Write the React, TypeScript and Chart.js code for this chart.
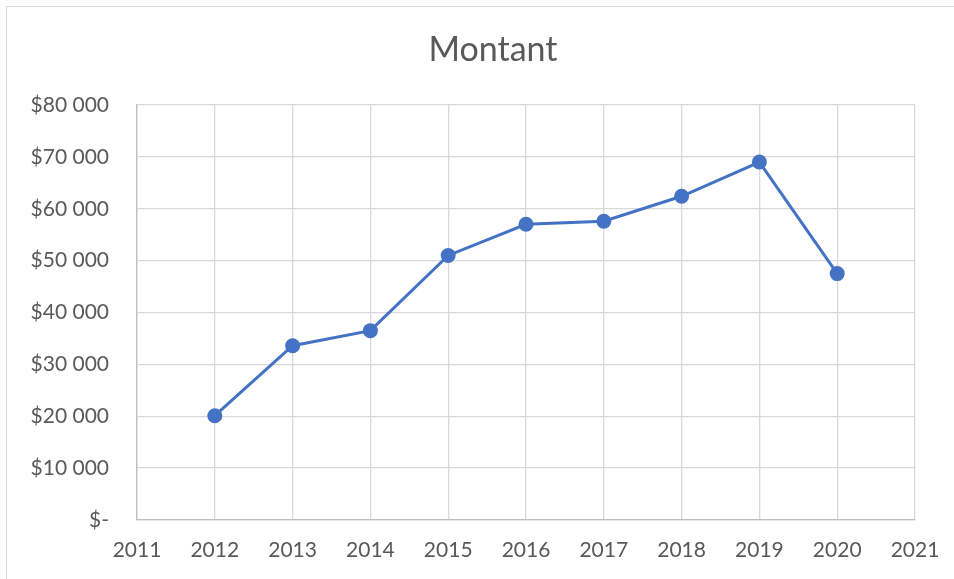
import React, { useEffect, useRef } from "react";
import { Chart, registerables } from "chart.js";

Chart.register(...registerables);

const years = [2012, 2013, 2014, 2015, 2016, 2017, 2018, 2019, 2020];
const amounts = [20100, 33600, 36500, 51000, 57000, 57600, 62400, 69000, 47500];
const title = "Montant";
const xMin = 2011;
const xMax = 2021;
const yMin = 0;
const yMax = 80000;
const yStep = 10000;

const fmtMoney = (v: number) =>
  v === 0 ? "$-" : "$" + String(v).replace(/\B(?=(\d{3})+(?!\d))/g, " ");

const FONT = "Lato, 'Open Sans', sans-serif";

const titlePlugin = {
  id: "centeredTitle",
  afterDraw(chart: any) {
    const ctx = chart.ctx;
    ctx.save();
    ctx.fillStyle = "#595959";
    ctx.font = `normal 34px ${FONT}`;
    ctx.textAlign = "center";
    ctx.textBaseline = "middle";
    ctx.fillText(title, 493, 50);
    ctx.restore();
  },
};

export default function App() {
  const ref = useRef<HTMLCanvasElement | null>(null);

  useEffect(() => {
    if (!ref.current) return;
    const chart = new Chart(ref.current, {
      type: "line",
      data: {
        datasets: [
          {
            label: title,
            data: years.map((y, i) => ({ x: y, y: amounts[i] })),
            borderColor: "#4472C4",
            backgroundColor: "#4472C4",
            borderWidth: 3,
            pointRadius: 7.5,
            pointHoverRadius: 7.5,
            pointBorderWidth: 0,
            tension: 0,
          },
        ],
      },
      options: {
        animation: false,
        responsive: false,
        layout: { padding: { left: 0, right: 39, top: 105, bottom: 0 } },
        plugins: {
          legend: { display: false },
          tooltip: { enabled: false },
          title: { display: false },
        },
        scales: {
          x: {
            type: "linear",
            min: xMin,
            max: xMax,
            ticks: {
              stepSize: 1,
              color: "#595959",
              font: { family: FONT, size: 21 },
              padding: 18,
              callback: (v: any) => String(v),
            },
            grid: { color: "#d9d9d9", lineWidth: 1.3, drawTicks: false },
            border: { color: "#bfbfbf", width: 1.3 },
            afterFit: (s: any) => {
              s.height = 59;
              s.paddingLeft = 0;
              s.paddingRight = 0;
            },
          },
          y: {
            min: yMin,
            max: yMax,
            ticks: {
              stepSize: yStep,
              color: "#595959",
              font: { family: FONT, size: 21 },
              padding: 28,
              callback: (v: any) => fmtMoney(Number(v)),
            },
            grid: { color: "#d9d9d9", lineWidth: 1.3, drawTicks: false },
            border: { color: "#bfbfbf", width: 1.3 },
            afterFit: (s: any) => {
              s.width = 137;
            },
          },
        },
      },
      plugins: [titlePlugin],
    });
    return () => chart.destroy();
  }, []);

  return (
    <div style={{ position: "fixed", left: 0, top: 0, width: 954, height: 579, background: "#fff" }}>
      <div
        style={{
          position: "absolute",
          left: 6,
          top: 6,
          width: 960,
          height: 580,
          border: "1px solid #d9d9d9",
          boxSizing: "border-box",
        }}
      />
      <canvas ref={ref} width={954} height={579} style={{ position: "absolute", left: 0, top: 0 }} />
    </div>
  );
}
